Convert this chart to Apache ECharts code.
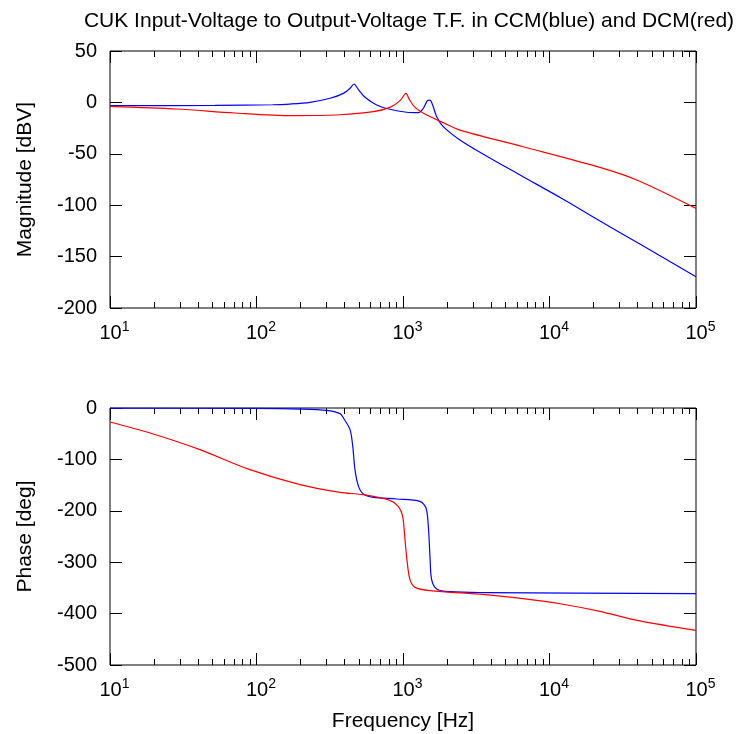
<!DOCTYPE html>
<html>
<head>
<meta charset="utf-8">
<script src="https://cdn.jsdelivr.net/npm/echarts@6/dist/echarts.min.js"></script>
<style>
  html, body { margin: 0; padding: 0; background: #fff; }
  #bode { width: 738px; height: 734px; }
</style>
</head>
<body>
<div id="bode"></div>
<script>
// values (frequency in Hz)
const blueMagFreq = [10, 52, 129, 169, 232, 318, 392, 435, 463, 495, 551, 661, 814, 1059, 1273, 1377, 1467, 1528, 1594, 1698, 1884, 2448, 3606, 6607, 12078, 22131, 40551, 100000]
const blueMagDb = [-3.2, -2.9, -2.3, -1.6, 0.1, 4.0, 8.8, 13.7, 17.9, 12.7, 5.0, -2.5, -6.7, -9.6, -10, -5.7, 1.7, 2.3, -2.5, -13.9, -23.6, -36.6, -51.2, -72.3, -93.3, -115.4, -137.1, -169.6]

const redMagFreq = [10, 28.6, 70.8, 175, 372, 627, 815, 955, 1048, 1104, 1208, 1452, 1884, 2448, 6607, 22131, 40551, 100000]
const redMagDb = [-3.8, -6.4, -10.3, -12.9, -12, -9, -4.8, 1.7, 8.8, 3, -4.8, -12.3, -19.7, -26.9, -43.1, -63.2, -76.2, -103.1]

const bluePhFreq = [10, 96, 198, 301, 372, 392, 435, 454, 470, 495, 536, 627, 906, 1306, 1436, 1489, 1528, 1569, 1698, 2094, 3606, 100000]
const bluePhDeg = [-0.3, -0.8, -2, -4.6, -11, -19.5, -42, -74.6, -120, -151, -167.4, -173.9, -177, -181.6, -194.6, -230, -288.7, -334, -352, -357.4, -359, -361]

const redPhFreq = [10, 18.8, 41.1, 90.3, 198, 372, 536, 815, 929, 995, 1032, 1070, 1116, 1208, 1528, 3606, 6607, 12078, 22131, 40551, 100000]
const redPhDeg = [-27.3, -48.7, -81, -120, -149, -164, -168.7, -179.7, -191.4, -210.9, -256, -301.6, -334, -349, -355.4, -363, -371, -381.3, -395.7, -413.8, -432.7]

const minorFreqs = []
for (let d = 10; d < 100000; d *= 10) {
  for (let k = 2; k <= 9; k++) minorFreqs.push(d * k)
}

const chart = echarts.init(document.getElementById('bode'))
const font = 'Liberation Sans, Arial, sans-serif'

function pairs(xs, ys) {
  return xs.map((x, i) => [x, ys[i]])
}

function xAxes(gridIndex, withName) {
  const base = {
    gridIndex,
    type: 'log',
    logBase: 10,
    min: 10,
    max: 100000,
    axisLine: { show: false, onZero: false },
    splitLine: { show: false },
  }
  return [
    {
      ...base,
      position: 'bottom',
      axisTick: { inside: true, length: 12, lineStyle: { color: '#000' } },
      axisLabel: {
        color: '#000',
        fontFamily: font,
        fontSize: 20,
        margin: 12,
        formatter: (v) => '{pad|}10{sup|' + Math.round(Math.log10(v)) + '}',
        rich: {
          pad: { width: 9 },
          sup: { fontSize: 14, fontFamily: font, color: '#000', verticalAlign: 'top', padding: [0, 0, 12, 0] },
        },
      },
      name: withName ? 'Frequency [Hz]' : '',
      nameLocation: 'middle',
      nameGap: 46,
      nameTextStyle: { color: '#000', fontFamily: font, fontSize: 21 },
    },
    {
      ...base,
      position: 'bottom',
      axisTick: { inside: true, length: 6, customValues: minorFreqs, lineStyle: { color: '#000' } },
      axisLabel: { show: false },
    },
    {
      ...base,
      position: 'top',
      axisTick: { inside: true, length: 12, lineStyle: { color: '#000' } },
      axisLabel: { show: false },
    },
    {
      ...base,
      position: 'top',
      axisTick: { inside: true, length: 6, customValues: minorFreqs, lineStyle: { color: '#000' } },
      axisLabel: { show: false },
    },
  ]
}

function yAxes(gridIndex, min, max, interval, name) {
  const base = {
    gridIndex,
    type: 'value',
    min,
    max,
    interval,
    axisLine: { show: false, onZero: false },
    splitLine: { show: false },
    axisTick: { inside: true, length: 12, lineStyle: { color: '#000' } },
  }
  return [
    {
      ...base,
      position: 'left',
      axisLabel: { color: '#000', fontFamily: font, fontSize: 20, margin: 13 },
      name,
      nameLocation: 'middle',
      nameGap: 74,
      nameMoveOverlap: false,
      nameTextStyle: { color: '#000', fontFamily: font, fontSize: 21 },
    },
    {
      ...base,
      position: 'right',
      axisLabel: { show: false },
    },
  ]
}

const lineSeries = (name, xAxisIndex, yAxisIndex, data, color) => ({
  name,
  type: 'line',
  xAxisIndex,
  yAxisIndex,
  data,
  showSymbol: false,
  smooth: 0.3,
  lineStyle: { color, width: 1.2 },
  itemStyle: { color },
})

const option = {
  backgroundColor: '#fff',
  animation: false,
  title: {
    text: 'CUK Input-Voltage to Output-Voltage T.F. in CCM(blue) and DCM(red)',
    left: 404,
    top: 6,
    textAlign: 'center',
    textStyle: { color: '#000', fontFamily: font, fontSize: 21, fontWeight: 'normal' },
  },
  grid: [
    { left: 110, right: 42, top: 51, height: 257, show: true, borderColor: '#000', borderWidth: 1, backgroundColor: 'transparent' },
    { left: 110, right: 42, top: 408, height: 257, show: true, borderColor: '#000', borderWidth: 1, backgroundColor: 'transparent' },
  ],
  xAxis: [...xAxes(0, false), ...xAxes(1, true)],
  yAxis: [...yAxes(0, -200, 50, 50, 'Magnitude [dBV]'), ...yAxes(1, -500, 0, 100, 'Phase [deg]')],
  series: [
    lineSeries('CCM magnitude', 0, 0, pairs(blueMagFreq, blueMagDb), '#0000ff'),
    lineSeries('DCM magnitude', 0, 0, pairs(redMagFreq, redMagDb), '#ff0000'),
    lineSeries('CCM phase', 4, 2, pairs(bluePhFreq, bluePhDeg), '#0000ff'),
    lineSeries('DCM phase', 4, 2, pairs(redPhFreq, redPhDeg), '#ff0000'),
  ],
}

option && chart.setOption(option)
</script>
</body>
</html>
